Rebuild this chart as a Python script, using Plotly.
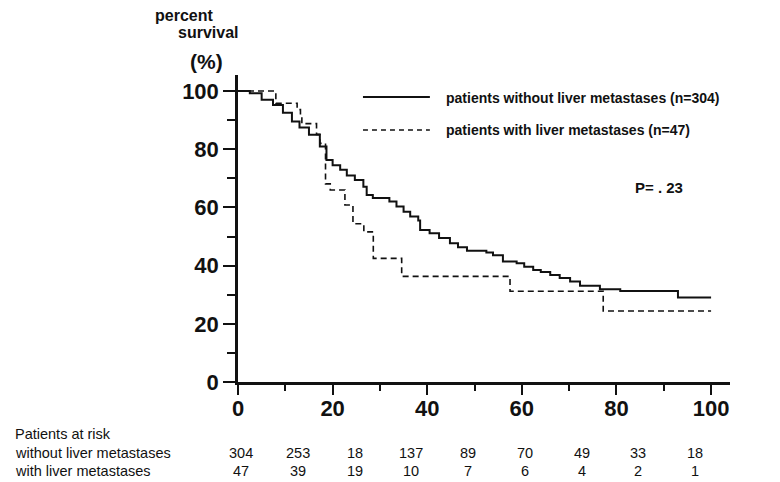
import plotly.graph_objects as go

# ---------------- data ----------------
# patients without liver metastases (n=304): step points (months, % survival)
no_met_x = [0, 2.5, 5, 7.4, 9.5, 11.4, 13, 15, 17.3, 18.7, 20, 21.6, 23, 24.7, 26.5, 27.2,
            28.5, 32, 33.5, 35, 36.4, 38.1, 38.5, 40.5, 42.5, 44.8, 46.5, 48.4, 52.5, 53.9,
            56, 58.9, 60.5, 62.4, 64, 66, 68, 70.2, 72.3, 76.5, 80.8, 93, 100]
no_met_y = [100, 99.2, 97, 95.2, 92.5, 89.5, 87.5, 85, 80.9, 76.3, 74.5, 72.9, 71, 69.4, 67.1, 64.3,
            63.2, 62, 60.3, 58.5, 56.9, 55.5, 52.2, 51.1, 49.5, 47.7, 46.3, 45.1, 44.5, 43.6,
            41.4, 40.8, 39.6, 38.5, 37.8, 36.8, 35.7, 34.5, 33.1, 31.9, 31.3, 29.0, 29.0]

# patients with liver metastases (n=47)
met_x = [0, 8, 12.5, 13.2, 13.5, 16.6, 17.3, 18.5, 19.5, 22.6, 24.3, 26.6, 28.6, 34.6,
         57.5, 77.2, 100]
met_y = [100, 95.8, 93.6, 91.5, 88.8, 85.1, 82.0, 68.1, 66.0, 60.8, 54.4, 51.6, 42.5, 36.3,
         31.2, 24.4, 24.4]

x_ticks = [0, 20, 40, 60, 80, 100]
y_ticks = [0, 20, 40, 60, 80, 100]

risk_times = [0, 12, 24, 36, 48, 60, 72, 84, 96]
risk_without = [304, 253, 18, 137, 89, 70, 49, 33, 18]
risk_with = [47, 39, 19, 10, 7, 6, 4, 2, 1]

label_without = "patients without liver metastases (n=304)"
label_with = "patients with liver metastases (n=47)"
p_text = "P= . 23"

# ---------------- figure ----------------
BOLD = "Liberation Sans"
NARROW = "Liberation Sans Narrow, Liberation Sans, Arial"
INK = "#111111"

fig = go.Figure()
fig.add_trace(go.Scatter(x=no_met_x, y=no_met_y, mode="lines", line_shape="hv",
                         line=dict(color=INK, width=2), name=label_without,
                         showlegend=False))
fig.add_trace(go.Scatter(x=met_x, y=met_y, mode="lines", line_shape="hv",
                         line=dict(color=INK, width=1.6, dash="6px,4px"),
                         name=label_with, showlegend=False))

# the page body has an 8px default margin: size the figure so the plot lands correctly
fig.update_layout(
    width=772, height=474,
    margin=dict(l=230, r=50, t=67, b=100),
    paper_bgcolor="white", plot_bgcolor="white",
    xaxis=dict(range=[0, 104], tickvals=x_ticks, showgrid=False, zeroline=False,
               showline=True, linecolor=INK, linewidth=2.5,
               ticks="outside", ticklen=10, tickwidth=1.5, tickcolor=INK,
               ticklabelstandoff=-5,
               minor=dict(dtick=10, tick0=0, ticks="outside", ticklen=6, tickwidth=1.5,
                          tickcolor=INK, showgrid=False),
               tickfont=dict(family=BOLD, size=22, color=INK, weight="bold")),
    yaxis=dict(range=[0, 105.5], tickvals=y_ticks, showgrid=False, zeroline=False,
               showline=True, linecolor=INK, linewidth=2.5,
               ticks="outside", ticklen=12, tickwidth=1.5, tickcolor=INK,
               minor=dict(dtick=10, tick0=0, ticks="outside", ticklen=8, tickwidth=1.5,
                          tickcolor=INK, showgrid=False),
               tickfont=dict(family=BOLD, size=22, color=INK, weight="bold")),
)

# y axis title pieces
fig.add_annotation(xref="paper", yref="paper", x=-0.173, y=1.194, xanchor="left", yanchor="middle",
                   text="percent", showarrow=False,
                   font=dict(family=BOLD, size=16, color=INK, weight="bold"))
fig.add_annotation(xref="paper", yref="paper", x=-0.127, y=1.140, xanchor="left", yanchor="middle",
                   text="survival", showarrow=False,
                   font=dict(family=BOLD, size=16, color=INK, weight="bold"))
fig.add_annotation(xref="paper", yref="paper", x=-0.102, y=1.044, xanchor="left", yanchor="middle",
                   text="(%)", showarrow=False,
                   font=dict(family=BOLD, size=21, color=INK, weight="bold"))

# legend (manual)
fig.add_shape(type="line", xref="paper", yref="paper", x0=0.254, x1=0.390, y0=0.928, y1=0.928,
              line=dict(color=INK, width=2))
fig.add_shape(type="line", xref="paper", yref="paper", x0=0.254, x1=0.390, y0=0.821, y1=0.821,
              line=dict(color=INK, width=1.5, dash="5px,4px"))
fig.add_annotation(xref="paper", yref="paper", x=0.419, y=0.925, xanchor="left", yanchor="middle",
                   text=label_without, showarrow=False,
                   font=dict(family=BOLD, size=14, color=INK, weight="bold"))
fig.add_annotation(xref="paper", yref="paper", x=0.419, y=0.821, xanchor="left", yanchor="middle",
                   text=label_with, showarrow=False,
                   font=dict(family=BOLD, size=14, color=INK, weight="bold"))
fig.add_annotation(xref="paper", yref="paper", x=0.802, y=0.635, xanchor="left", yanchor="middle",
                   text=p_text, showarrow=False,
                   font=dict(family=BOLD, size=15, color=INK, weight="bold"))

# risk table
ROW0, ROW1, ROW2 = -0.1694, -0.2313, -0.2899
fig.add_annotation(xref="paper", yref="paper", x=-0.455, y=ROW0, xanchor="left", yanchor="middle",
                   text="Patients at risk", showarrow=False, borderpad=0,
                   font=dict(family=NARROW, size=14.5, color=INK))
fig.add_annotation(xref="paper", yref="paper", x=-0.455, y=ROW1, xanchor="left", yanchor="middle",
                   text="without liver metastases", showarrow=False, borderpad=0,
                   font=dict(family=NARROW, size=14.5, color=INK))
fig.add_annotation(xref="paper", yref="paper", x=-0.455, y=ROW2, xanchor="left", yanchor="middle",
                   text="with liver metastases", showarrow=False, borderpad=0,
                   font=dict(family=NARROW, size=14.5, color=INK))
for t, a, b in zip(risk_times, risk_without, risk_with):
    fig.add_annotation(xref="x", yref="paper", x=t, y=ROW1, xanchor="center", yanchor="middle",
                       text=str(a), showarrow=False, xshift=3, borderpad=0,
                       font=dict(family=NARROW, size=14.5, color=INK))
    fig.add_annotation(xref="x", yref="paper", x=t, y=ROW2, xanchor="center", yanchor="middle",
                       text=str(b), showarrow=False, xshift=3, borderpad=0,
                       font=dict(family=NARROW, size=14.5, color=INK))

fig.write_html("out.html")
